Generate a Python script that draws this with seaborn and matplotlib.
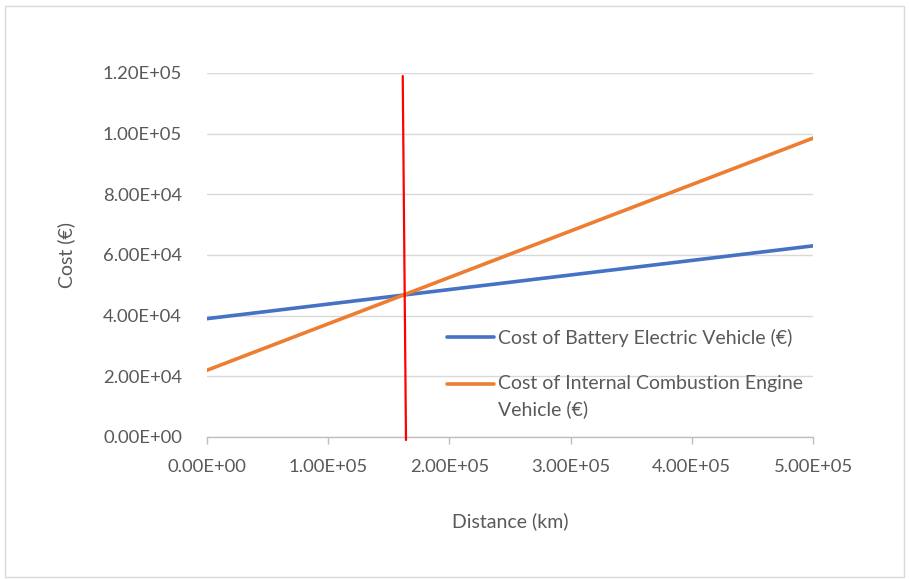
import matplotlib
matplotlib.use("Agg")
import matplotlib.pyplot as plt
import matplotlib.patches as mpatches
import seaborn as sns
import pandas as pd

# Total cost of ownership against distance driven
distance_km = [0, 500000]
bev_cost = [39000, 63000]
ice_cost = [22000, 98500]
bev_label = "Cost of Battery Electric Vehicle (€)"
ice_label = "Cost of Internal Combustion Engine\nVehicle (€)"

# Hand-drawn break-even marker
breakeven_x = [161500, 164200]
breakeven_y = [119000, -1000]

x_ticks = [0, 100000, 200000, 300000, 400000, 500000]
y_ticks = [0, 20000, 40000, 60000, 80000, 100000, 120000]

df = pd.DataFrame({
    "Distance": distance_km * 2,
    "Cost": bev_cost + ice_cost,
    "Series": [bev_label] * len(distance_km) + [ice_label] * len(distance_km),
})

sns.set_theme(style="white")
plt.rcParams["font.family"] = ["Lato", "DejaVu Sans"]
text_color = "#595959"

fig = plt.figure(figsize=(9.09, 5.79), dpi=100)
ax = fig.add_axes([0.2277, 0.2453, 0.6667, 0.6287])

sns.lineplot(data=df, x="Distance", y="Cost", hue="Series",
             palette=["#4472c4", "#ed7d31"], linewidth=2.6, ax=ax)
ax.plot(breakeven_x, breakeven_y, color="#ff0000", linewidth=1.6,
        clip_on=False, zorder=5)

ax.set_xlim(0, 500000)
ax.set_ylim(0, 120000)
ax.set_xticks(x_ticks)
ax.set_yticks(y_ticks)
ax.set_xticklabels([f"{v:.2E}" for v in x_ticks])
ax.set_yticklabels([f"{v:.2E}" for v in y_ticks])
ax.yaxis.grid(True, color="#d9d9d9", linewidth=1.0)
ax.xaxis.grid(False)
for side in ["top", "right", "left"]:
    ax.spines[side].set_visible(False)
ax.spines["bottom"].set_color("#bfbfbf")
ax.spines["bottom"].set_linewidth(1.0)
ax.tick_params(axis="x", which="major", bottom=True, length=5, width=1,
               color="#bfbfbf", pad=11, labelsize=13.3, labelcolor=text_color)
ax.tick_params(axis="y", left=False, pad=12, labelsize=13.3,
               labelcolor=text_color)

ax.set_xlabel("Distance (km)", fontsize=14, color=text_color, labelpad=27)
ax.set_ylabel("Cost (€)", fontsize=14, color=text_color, labelpad=20)

leg = ax.legend(loc="upper left", bbox_to_anchor=(0.368, 0.345), frameon=False,
                fontsize=14, handlelength=2.4, handletextpad=0.2,
                labelspacing=1.46, labelcolor=text_color)
for text in leg.get_texts():
    text.set_linespacing(1.5)
for line in leg.get_lines():
    line.set_linewidth(2.6)
# Keep the wrapped entry's swatch level with its first line of text
ice_handle = leg.get_lines()[1]
ice_handle.set_ydata([y + 9.4 for y in ice_handle.get_ydata()])

# Outer chart border
fig.patches.append(mpatches.Rectangle((0.006, 0.004), 0.988, 0.986,
                                      transform=fig.transFigure, fill=False,
                                      edgecolor="#d9d9d9", linewidth=1.0))

fig.savefig("out.png", dpi=100, facecolor="white")
